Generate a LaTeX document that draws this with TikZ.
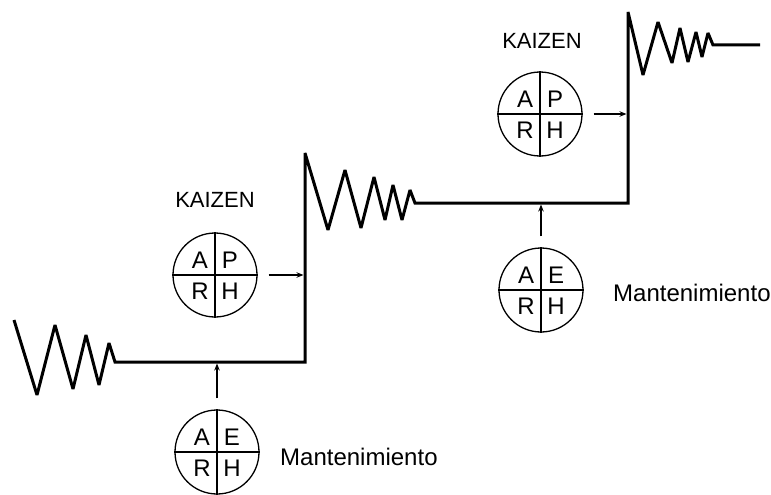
\documentclass[tikz,border=0pt]{standalone}
\usepackage{fontspec}
\setmainfont{Liberation Sans}
\usetikzlibrary{arrows.meta,calc}
\begin{document}
\begin{tikzpicture}[x=1pt,y=-1pt,
  main/.style={line width=3pt, line join=miter, miter limit=3, line cap=butt},
  pdca/.style={circle, draw, line width=1.3pt, minimum size=84pt, inner sep=0pt},
  divider/.style={line width=1.3pt},
  ltr/.style={font=\fontsize{24}{26}\selectfont, inner sep=0pt},
  lbl/.style={font=\fontsize{24}{26}\selectfont, anchor=west, inner sep=0pt},
  kz/.style={font=\fontsize{22}{24}\selectfont, inner sep=0pt},
  feed/.style={line width=1.2pt, -{Stealth[length=7pt,width=5.5pt]}, shorten <=11pt, shorten >=1.5pt}
]
\useasboundingbox (0,0) rectangle (771,495);

% main staircase line
\draw[main] (14,320) -- (37,395) -- (55,325) -- (73,389) -- (86,335) -- (99,385) -- (109,343) -- (115,362)
  -- (305,362) -- (305,153)
  -- (328,230) -- (345,170) -- (361,228) -- (374,177) -- (385,220) -- (393,185) -- (402,220) -- (410,190) -- (415,203)
  -- (628,203) -- (628,12)
  -- (643,75) -- (658,22) -- (672,63) -- (680,28) -- (688,62) -- (696,32) -- (702,57) -- (708,33) -- (713,45)
  -- (760,45);

\coordinate (hitK1) at (305,275);
\coordinate (hitM1) at (217,362);
\coordinate (hitK2) at (628,114);
\coordinate (hitM2) at (541,203);

% lower-left KAIZEN
\node[kz] (kzt1) at (215,200) {KAIZEN};
\node[pdca] (k1) at (215,275) {};
\draw[divider] (k1.north) -- (k1.south);
\draw[divider] (k1.west) -- (k1.east);
\node[ltr] (k1a) at ($(k1.center)+(-15,-15)$) {A};
\node[ltr] (k1p) at ($(k1.center)+(15,-15)$) {P};
\node[ltr] (k1r) at ($(k1.center)+(-15,16)$) {R};
\node[ltr] (k1h) at ($(k1.center)+(15,16)$) {H};
\draw[feed] (k1) -- (hitK1);

% lower Mantenimiento
\node[pdca] (m1) at (217,452) {};
\draw[divider] (m1.north) -- (m1.south);
\draw[divider] (m1.west) -- (m1.east);
\node[ltr] (m1a) at ($(m1.center)+(-15,-15)$) {A};
\node[ltr] (m1e) at ($(m1.center)+(15,-15)$) {E};
\node[ltr] (m1r) at ($(m1.center)+(-15,16)$) {R};
\node[ltr] (m1h) at ($(m1.center)+(15,16)$) {H};
\node[lbl] (m1t) at (280,457) {Mantenimiento};
\draw[feed] (m1) -- (hitM1);

% upper-right KAIZEN
\node[kz] (kzt2) at (542,41) {KAIZEN};
\node[pdca] (k2) at (540,114) {};
\draw[divider] (k2.north) -- (k2.south);
\draw[divider] (k2.west) -- (k2.east);
\node[ltr] (k2a) at ($(k2.center)+(-15,-15)$) {A};
\node[ltr] (k2p) at ($(k2.center)+(15,-15)$) {P};
\node[ltr] (k2r) at ($(k2.center)+(-15,16)$) {R};
\node[ltr] (k2h) at ($(k2.center)+(15,16)$) {H};
\draw[feed] (k2) -- (hitK2);

% right Mantenimiento
\node[pdca] (m2) at (541,290) {};
\draw[divider] (m2.north) -- (m2.south);
\draw[divider] (m2.west) -- (m2.east);
\node[ltr] (m2a) at ($(m2.center)+(-15,-15)$) {A};
\node[ltr] (m2e) at ($(m2.center)+(15,-15)$) {E};
\node[ltr] (m2r) at ($(m2.center)+(-15,16)$) {R};
\node[ltr] (m2h) at ($(m2.center)+(15,16)$) {H};
\node[lbl] (m2t) at (613,293) {Mantenimiento};
\draw[feed] (m2) -- (hitM2);
\end{tikzpicture}
\end{document}
